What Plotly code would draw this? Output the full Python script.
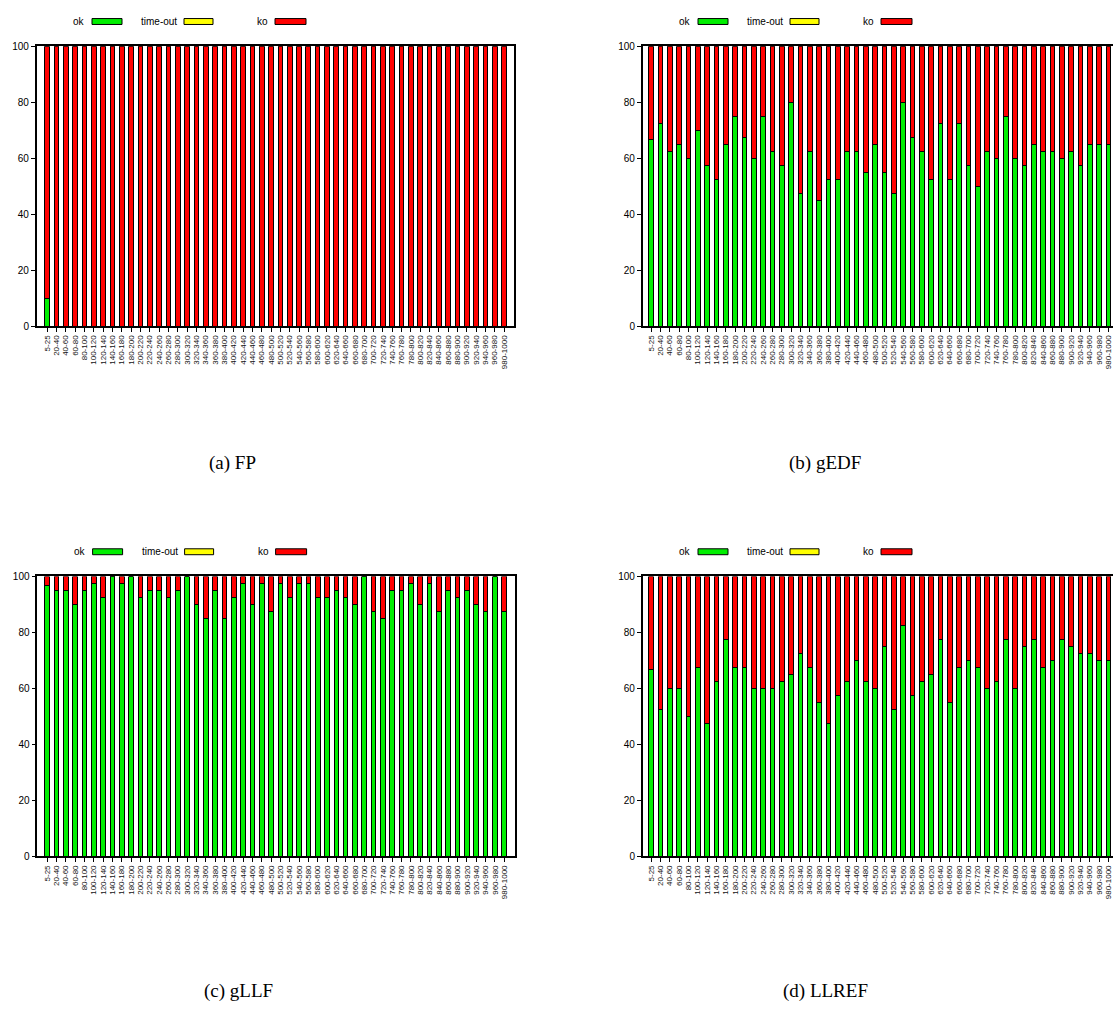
import plotly.graph_objects as go

# ---------------- data ----------------
CATEGORIES = ["5-25", "20-40", "40-60", "60-80", "80-100", "100-120", "120-140", "140-160",
              "160-180", "180-200", "200-220", "220-240", "240-260", "260-280", "280-300",
              "300-320", "320-340", "340-360", "360-380", "380-400", "400-420", "420-440",
              "440-460", "460-480", "480-500", "500-520", "520-540", "540-560", "560-580",
              "580-600", "600-620", "620-640", "640-660", "660-680", "680-700", "700-720",
              "720-740", "740-760", "760-780", "780-800", "800-820", "820-840", "840-860",
              "860-880", "880-900", "900-920", "920-940", "940-960", "960-980", "980-1000"]

Y_TICKS = [0, 20, 40, 60, 80, 100]

TIMEOUT = [0, 0, 0, 0, 0, 0, 0, 0, 0, 0, 0, 0, 0, 0, 0, 0, 0, 0, 0, 0, 0, 0, 0, 0, 0,
           0, 0, 0, 0, 0, 0, 0, 0, 0, 0, 0, 0, 0, 0, 0, 0, 0, 0, 0, 0, 0, 0, 0, 0, 0]

FP_OK = [10, 0, 0, 0, 0, 0, 0, 0, 0, 0, 0, 0, 0, 0, 0, 0, 0, 0, 0, 0, 0, 0, 0, 0, 0,
         0, 0, 0, 0, 0, 0, 0, 0, 0, 0, 0, 0, 0, 0, 0, 0, 0, 0, 0, 0, 0, 0, 0, 0, 0]
FP_KO = [90, 100, 100, 100, 100, 100, 100, 100, 100, 100, 100, 100, 100, 100, 100, 100, 100,
         100, 100, 100, 100, 100, 100, 100, 100, 100, 100, 100, 100, 100, 100, 100, 100, 100,
         100, 100, 100, 100, 100, 100, 100, 100, 100, 100, 100, 100, 100, 100, 100, 100]

GEDF_OK = [66.7, 72.5, 62.5, 65, 60, 70, 57.5, 52.5, 65, 75, 67.5, 60, 75, 62.5, 57.5, 80,
           47.5, 62.5, 45, 52.5, 52.5, 62.5, 62.5, 55, 65, 55, 47.5, 80, 67.5, 62.5, 52.5,
           72.5, 52.5, 72.5, 57.5, 50, 62.5, 60, 75, 60, 57.5, 65, 62.5, 62.5, 60, 62.5,
           57.5, 65, 65, 65]
GEDF_KO = [33.3, 27.5, 37.5, 35, 40, 30, 42.5, 47.5, 35, 25, 32.5, 40, 25, 37.5, 42.5, 20,
           52.5, 37.5, 55, 47.5, 47.5, 37.5, 37.5, 45, 35, 45, 52.5, 20, 32.5, 37.5, 47.5,
           27.5, 47.5, 27.5, 42.5, 50, 37.5, 40, 25, 40, 42.5, 35, 37.5, 37.5, 40, 37.5,
           42.5, 35, 35, 35]

GLLF_OK = [96.7, 95, 95, 90, 95, 97.5, 92.5, 100, 97.5, 100, 92.5, 95, 95, 92.5, 95, 100,
           90, 85, 95, 85, 92.5, 97.5, 90, 97.5, 87.5, 97.5, 92.5, 97.5, 97.5, 92.5, 92.5,
           95, 92.5, 90, 100, 87.5, 85, 95, 95, 97.5, 90, 97.5, 87.5, 95, 92.5, 95, 90,
           87.5, 100, 87.5]
GLLF_KO = [3.3, 5, 5, 10, 5, 2.5, 7.5, 0, 2.5, 0, 7.5, 5, 5, 7.5, 5, 0, 10, 15, 5, 15, 7.5,
           2.5, 10, 2.5, 12.5, 2.5, 7.5, 2.5, 2.5, 7.5, 7.5, 5, 7.5, 10, 0, 12.5, 15, 5, 5,
           2.5, 10, 2.5, 12.5, 5, 7.5, 5, 10, 12.5, 0, 12.5]

LLREF_OK = [66.7, 52.5, 60, 60, 50, 67.5, 47.5, 62.5, 77.5, 67.5, 67.5, 60, 60, 60, 62.5,
            65, 72.5, 67.5, 55, 47.5, 57.5, 62.5, 70, 62.5, 60, 75, 52.5, 82.5, 57.5, 62.5,
            65, 77.5, 55, 67.5, 70, 67.5, 60, 62.5, 77.5, 60, 75, 77.5, 67.5, 70, 77.5, 75,
            72.5, 72.5, 70, 70]
LLREF_KO = [33.3, 47.5, 40, 40, 50, 32.5, 52.5, 37.5, 22.5, 32.5, 32.5, 40, 40, 40, 37.5,
            35, 27.5, 32.5, 45, 52.5, 42.5, 37.5, 30, 37.5, 40, 25, 47.5, 17.5, 42.5, 37.5,
            35, 22.5, 45, 32.5, 30, 32.5, 40, 37.5, 22.5, 40, 25, 22.5, 32.5, 30, 22.5, 25,
            27.5, 27.5, 30, 30]

PANEL_TITLES = ["(a) FP", "(b) gEDF", "(c) gLLF", "(d) LLREF"]
SERIES_NAMES = ["ok", "time-out", "ko"]

# ---------------- styling ----------------
W, H = 1113, 1012
GREEN, YELLOW, RED = "#00ee00", "#ffff00", "#ff0000"
SANS = "Liberation Sans, Arial, Helvetica, sans-serif"
SERIF = "Liberation Serif, Times New Roman, serif"


def px_x(v):
    return v / W


def px_y(v):
    return 1 - v / H


# panel boxes in pixels: (left, right, top, bottom), x-range, mirror-right
panels = [
    dict(box=(36.7, 514.0, 40.7, 324.3), xr=[-1.12, 50.05], right=True,
         ok=FP_OK, ko=FP_KO, cap=(232, 462)),
    dict(box=(642.7, 1113.0, 40.7, 324.3), xr=[-0.9, 49.5], right=False,
         ok=GEDF_OK, ko=GEDF_KO, cap=(825, 462)),
    dict(box=(37.3, 515.0, 577.3, 860.7), xr=[-1.05, 50.15], right=True,
         ok=GLLF_OK, ko=GLLF_KO, cap=(238, 997)),
    dict(box=(642.7, 1113.0, 577.3, 860.7), xr=[-0.9, 49.5], right=False,
         ok=LLREF_OK, ko=LLREF_KO, cap=(826, 997)),
]

fig = go.Figure()
shapes = []
annotations = []

for i, p in enumerate(panels):
    n = "" if i == 0 else str(i + 1)
    xa, ya = "x" + n, "y" + n
    colors = [GREEN, YELLOW, RED]
    values = [p["ok"], TIMEOUT, p["ko"]]
    for name, col, vals in zip(SERIES_NAMES, colors, values):
        fig.add_trace(go.Bar(
            x=CATEGORIES, y=vals, name=name, xaxis=xa, yaxis=ya,
            marker=dict(color=col, line=dict(color="black", width=1)),
            width=0.5, showlegend=False, hoverinfo="x+y+name",
        ))
    l, r, t, b = p["box"]
    axis_common = dict(showline=True, linecolor="black", linewidth=1.5,
                       ticks="outside", ticklen=4, tickwidth=1, tickcolor="black",
                       showgrid=False, zeroline=False)
    fig.layout["xaxis" + n] = dict(
        domain=[px_x(l), px_x(r)], anchor=ya, type="category",
        range=p["xr"], tickmode="array", tickvals=CATEGORIES, ticktext=CATEGORIES,
        tickangle=-90, tickfont=dict(family=SANS, size=8, color="#111"),
        mirror=True, **axis_common)
    fig.layout["yaxis" + n] = dict(
        domain=[px_y(b), px_y(t)], anchor=xa, range=[0, 100],
        tickmode="array", tickvals=Y_TICKS,
        tickfont=dict(family=SANS, size=10, color="black"),
        mirror=p["right"], **axis_common)

    # legend (text then swatch) above each panel
    dx = l - 36.7
    ly = t - 25
    leg = [("ok", 87, 92, 122, GREEN), ("time-out", 179, 184, 213, YELLOW),
           ("ko", 270, 275, 306, RED)]
    for txt, tx, s0, s1, col in leg:
        annotations.append(dict(
            text=txt, x=px_x(tx + dx), y=px_y(ly), xref="paper", yref="paper",
            xanchor="right", yanchor="middle", showarrow=False,
            font=dict(family=SANS, size=10, color="black")))
        shapes.append(dict(
            type="rect", xref="paper", yref="paper",
            x0=px_x(s0 + dx), x1=px_x(s1 + dx), y0=px_y(ly + 3), y1=px_y(ly - 3),
            fillcolor=col, line=dict(color="black", width=1)))

    cx, cy = p["cap"]
    annotations.append(dict(
        text=PANEL_TITLES[i], x=px_x(cx), y=px_y(cy), xref="paper", yref="paper",
        xanchor="center", yanchor="middle", showarrow=False,
        font=dict(family=SERIF, size=19, color="black")))

fig.update_layout(
    width=W, height=H, margin=dict(l=0, r=0, t=0, b=0),
    paper_bgcolor="white", plot_bgcolor="white",
    barmode="stack", bargap=0.5,
    shapes=shapes, annotations=annotations,
)

fig.write_html(
    "out.html",
    config={"displayModeBar": False},
    post_script="document.body.style.margin='0px';document.body.style.padding='0px';"
                "document.body.style.overflow='hidden';",
)
